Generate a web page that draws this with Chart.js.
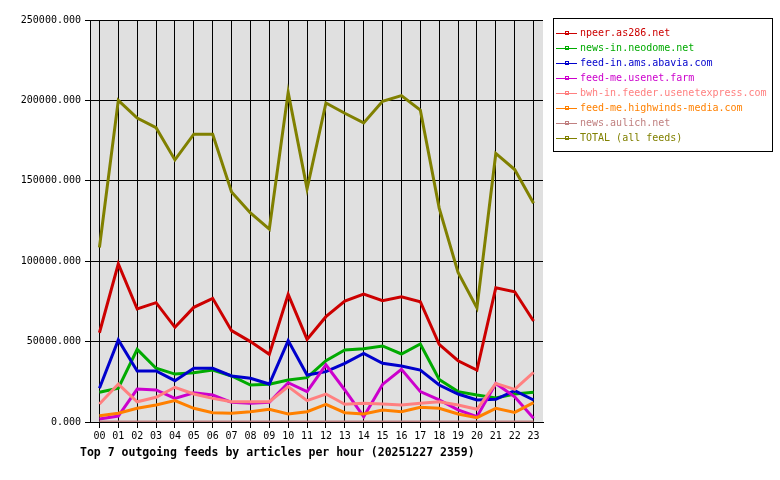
<!DOCTYPE html>
<html>
<head>
<meta charset="utf-8">
<script src="https://cdn.jsdelivr.net/npm/chart.js@4"></script>
<style>
  body { margin: 0; background: #fff; }
  #wrap { width: 780px; height: 480px; }
</style>
</head>
<body>
<div id="wrap"><canvas id="feedsChart" width="780" height="480"></canvas></div>
<script>
    const hours = ['00','01','02','03','04','05','06','07','08','09','10','11','12','13','14','15','16','17','18','19','20','21','22','23'];
    const feedNames = ['npeer.as286.net', 'news-in.neodome.net', 'feed-in.ams.abavia.com', 'feed-me.usenet.farm',
        'bwh-in.feeder.usenetexpress.com', 'feed-me.highwinds-media.com', 'news.aulich.net', 'TOTAL (all feeds)'];
    const feedColors = ['#cc0000', '#00aa00', '#0000cc', '#cc00cc', '#ff8080', '#ff8000', '#c08080', '#808000'];

    const npeer = [55500, 98300, 70300, 74200, 58900, 71300, 76900, 56800, 50000, 42100, 79400, 51400,
        65500, 75200, 79600, 75400, 77900, 74800, 48300, 38100, 32300, 83500, 81000, 62800];
    const neodome = [18500, 21000, 45200, 33400, 29800, 30700, 32300, 28600, 23000, 23500, 26100, 27600,
        38100, 44800, 45600, 47300, 42300, 48500, 26500, 18900, 16800, 15000, 17400, 18500];
    const abavia = [21000, 51000, 31700, 31700, 25700, 33400, 33400, 28600, 27200, 23600, 50600, 29200,
        31300, 36500, 42700, 36500, 34800, 32300, 23000, 17400, 13700, 14100, 19500, 13700];
    const usenetFarm = [1900, 3700, 20500, 19900, 14700, 18200, 16800, 12200, 11600, 12200, 24400, 18900,
        35500, 19900, 3300, 23400, 32800, 18900, 13700, 7500, 3300, 24000, 15700, 2300];
    const usenetExpress = [11200, 23600, 12600, 15400, 21600, 17400, 14700, 12600, 12600, 12600, 22000, 13300,
        17400, 11000, 11600, 11200, 10600, 11600, 12600, 10600, 7900, 24000, 20300, 30900];
    const highwinds = [3900, 5400, 8500, 10600, 13300, 8500, 5800, 5400, 6400, 7900, 5000, 6400,
        11000, 5800, 5000, 7500, 6400, 9100, 8500, 5000, 2700, 8500, 6000, 12000];
    const aulich = [0, 0, 0, 0, 0, 0, 0, 0, 0, 0, 0, 0, 0, 0, 0, 0, 0, 0, 0, 0, 0, 0, 0, 0];
    const total = [108500, 200000, 189000, 183000, 163000, 179000, 179000, 143000, 130000, 120000, 205000, 145000,
        198400, 192000, 186000, 199500, 203000, 194000, 133000, 93000, 71000, 167000, 157000, 136000];
    const yTicks = [0, 50000, 100000, 150000, 200000, 250000];

    const chartTitle = 'Top 7 outgoing feeds by articles per hour (20251227 2359)';
    const mono = '"DejaVu Sans Mono", "Liberation Mono", monospace';

    const series = [npeer, neodome, abavia, usenetFarm, usenetExpress, highwinds, aulich, total];

    // background of plot, bottom title and boxed legend
    const decorPlugin = {
        id: 'decor',
        beforeDraw(chart) {
            const a = chart.chartArea;
            const ctx = chart.ctx;
            ctx.save();
            ctx.fillStyle = '#e0e0e0';
            ctx.fillRect(a.left, a.top, a.right - a.left, a.bottom - a.top);
            ctx.restore();
        },
        afterDraw(chart) {
            const ctx = chart.ctx;
            ctx.save();
            ctx.fillStyle = '#000';
            ctx.font = 'bold 11.5px ' + mono;
            ctx.textBaseline = 'alphabetic';
            ctx.fillText(chartTitle, 80, 456);

            // legend box
            ctx.strokeStyle = '#000';
            ctx.lineWidth = 1;
            ctx.strokeRect(553.5, 18.5, 219, 133);
            ctx.font = '10px ' + mono;
            ctx.textBaseline = 'middle';
            chart.data.datasets.forEach((ds, i) => {
                const y = 33 + i * 15;
                ctx.strokeStyle = ds.borderColor;
                ctx.beginPath();
                ctx.moveTo(556, y + 0.5);
                ctx.lineTo(577, y + 0.5);
                ctx.stroke();
                ctx.strokeRect(565.5, y - 1.5, 3, 3);
                ctx.fillStyle = ds.borderColor;
                ctx.fillText(ds.label, 580, y);
            });
            ctx.restore();
        }
    };

    const ctxFeeds = document.getElementById('feedsChart').getContext('2d');
    const feedsChart = new Chart(ctxFeeds, {
        type: 'line',
        data: {
            labels: hours,
            datasets: series.map((values, i) => ({
                label: feedNames[i],
                data: values,
                borderColor: feedColors[i],
                backgroundColor: feedColors[i],
                borderWidth: 3,
                pointRadius: 0,
                tension: 0,
                fill: false,
                order: -i
            }))
        },
        options: {
            responsive: false,
            animation: false,
            layout: { padding: { top: 20, right: 237, left: 0, bottom: 0 } },
            plugins: {
                legend: { display: false },
                title: { display: false },
                tooltip: { enabled: false }
            },
            scales: {
                x: {
                    offset: true,
                    grid: { offset: false, color: '#000', lineWidth: 1, tickLength: 6, drawOnChartArea: true },
                    border: { color: '#000', width: 1 },
                    ticks: { color: '#000', font: { family: mono, size: 10 }, padding: 2, maxRotation: 0, autoSkip: false },
                    afterFit(scale) { scale.height = 58; }
                },
                y: {
                    min: 0,
                    max: 250000,
                    afterBuildTicks(scale) { scale.ticks = yTicks.map(v => ({ value: v })); },
                    grid: { color: '#000', lineWidth: 1, tickLength: 5 },
                    border: { color: '#000', width: 1 },
                    ticks: {
                        color: '#000',
                        font: { family: mono, size: 10 },
                        padding: 4,
                        callback: v => v.toFixed(3)
                    },
                    afterFit(scale) { scale.width = 90; }
                }
            }
        },
        plugins: [decorPlugin]
    });
</script>
</body>
</html>
